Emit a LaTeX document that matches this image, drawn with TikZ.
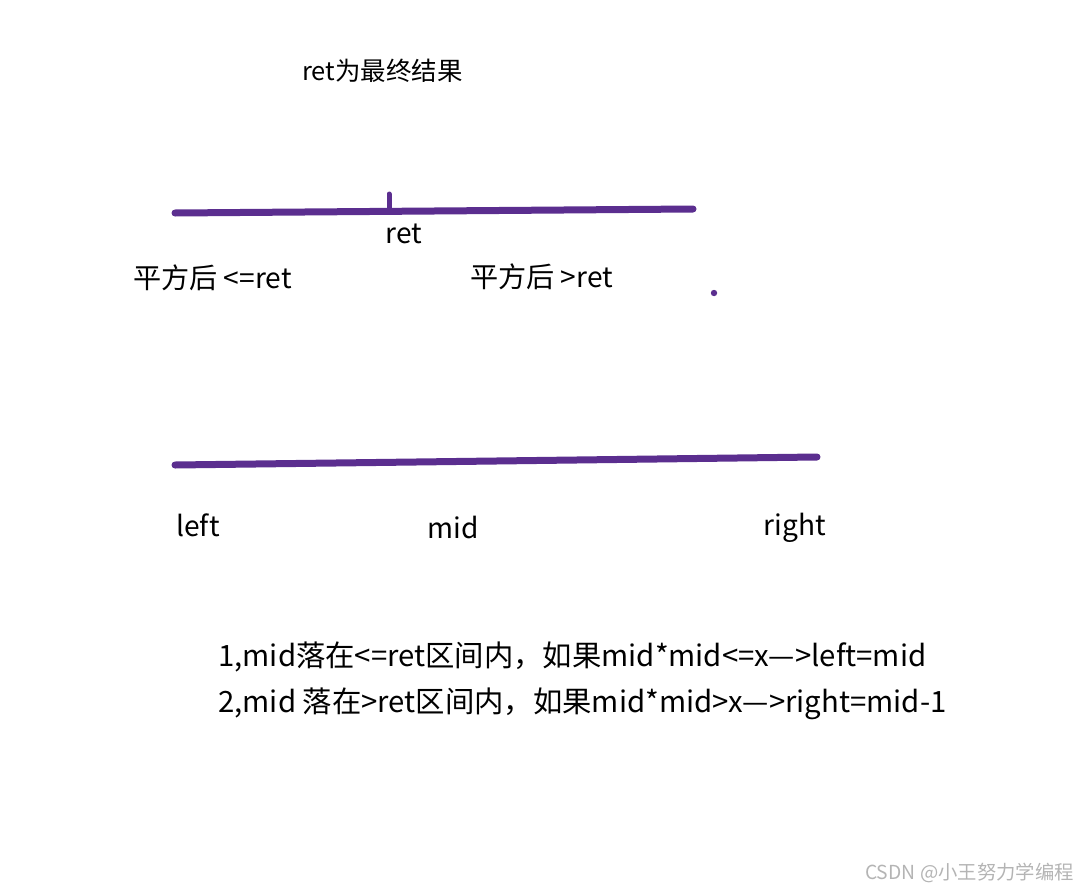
\documentclass[tikz,border=0pt]{standalone}
\usepackage{fontspec}
\setmainfont{Noto Sans CJK SC}
\usepackage{tikz}
\usetikzlibrary{calc}
\definecolor{penpurple}{HTML}{5B2E8F}
\definecolor{markgray}{HTML}{B4B4B4}

\begin{document}
\begin{tikzpicture}[x=0.02cm, y=-0.02cm,
  pen/.style={penpurple, line width=7*0.02cm, line cap=round},
  lbl/.style={inner sep=0pt, font=\fontsize{16}{19}\selectfont},
  note/.style={inner sep=0pt, anchor=west, font=\fontsize{16.7}{20}\selectfont}]

% bounding box
\useasboundingbox (0,0) rectangle (1084,892);

% titolo
\node[lbl, anchor=west, font=\fontsize{14.5}{17}\selectfont] (title) at (302,71) {ret为最终结果};

% linea superiore
\coordinate (A1) at (175,213);
\coordinate (A2) at (693,209);
\draw[pen] (A1) -- (A2);
\coordinate (T1) at (389,194); % segno di ret
\coordinate (T2) at (389,209);
\draw[pen, line width=5*0.02cm] (T1) -- (T2);
\node[lbl] (ret) at (404,234) {ret};
\node[lbl, anchor=west] (low) at (133,278) {平方后 <=ret};
\node[lbl, anchor=west] (high) at (470,277) {平方后 >ret};
\coordinate (P) at (714,293); % punto
\fill[penpurple] (P) circle (3.2);

% linea inferiore
\coordinate (B1) at (175,465);
\coordinate (B2) at (817,457);
\draw[pen] (B1) -- (B2);
\node[lbl, anchor=west] (left) at (176,525) {left};
\node[lbl] (mid) at (453,527) {mid};
\node[lbl] (right) at (795,528) {right};

% regole
\node[note] (rule1) at (218,657) {1,mid落在<=ret区间内，如果mid*mid<=x—>left=mid};
\node[note] (rule2) at (218,704) {2,mid 落在>ret区间内，如果mid*mid>x—>right=mid-1};

% firma
\node[inner sep=0pt, anchor=east, text=markgray, font=\fontsize{11}{13}\selectfont] (mark) at (1074,873) {CSDN @小王努力学编程};

\end{tikzpicture}
\end{document}
